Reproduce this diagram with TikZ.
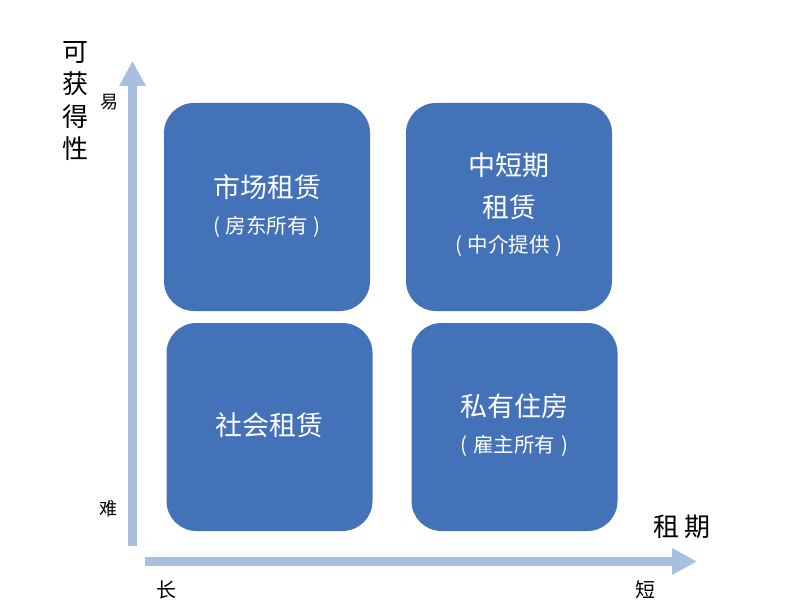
\documentclass[tikz,border=0pt]{standalone}
\usepackage{fontspec}
\setmainfont{Noto Sans CJK SC}
\usetikzlibrary{arrows.meta}
\definecolor{boxblue}{RGB}{68,114,185}
\definecolor{axisblue}{RGB}{168,191,223}
\tikzset{
  quad/.style={fill=boxblue, rounded corners=30pt, minimum width=206pt, minimum height=208pt, inner sep=0pt},
  maintxt/.style={text=white, font=\fontsize{27}{32}\selectfont, inner sep=0pt},
  subtxt/.style={text=white, font=\fontsize{20.5}{24}\selectfont, inner sep=0pt},
  axis/.style={draw=axisblue, line width=9pt, -{Triangle[length=25pt,width=25pt]}},
  axlabel/.style={text=black, inner sep=0pt},
}
\begin{document}
\begin{tikzpicture}[x=1pt,y=-1pt]
\useasboundingbox (0,0) rectangle (798,615);
% boxes
\node[quad] (b1) at (267,207) {};
\node[quad] (b2) at (509,207) {};
\node[quad] (b3) at (269.5,427) {};
\node[quad] (b4) at (514.5,427) {};
% texts
\node[maintxt] (t1a) at (267,187) {市场租赁};
\node[subtxt] (t1b) at (267,227) {(\hspace{6pt}房东所有\hspace{6pt})};
\node[maintxt] (t2a) at (509,165) {中短期};
\node[maintxt] (t2b) at (509,207) {租赁};
\node[subtxt] (t2c) at (509,246) {(\hspace{6pt}中介提供\hspace{6pt})};
\node[maintxt] (t3a) at (269.5,425) {社会租赁};
\node[maintxt] (t4a) at (514.5,406) {私有住房};
\node[subtxt] (t4b) at (514.5,446) {(\hspace{6pt}雇主所有\hspace{6pt})};
% axes
\coordinate (ystart) at (132.5,546);
\coordinate (yend) at (132.5,61);
\coordinate (xstart) at (145,561.5);
\coordinate (xend) at (697,561.5);
\draw[axis] (ystart) -- (yend);
\draw[axis] (xstart) -- (xend);
% axis labels
\node[axlabel, font=\fontsize{26}{32.5}\selectfont, align=center] (ylab) at (75,101) {可\\获\\得\\性};
\node[axlabel, font=\fontsize{18}{22}\selectfont] (easy) at (109,102) {易};
\node[axlabel, font=\fontsize{18}{22}\selectfont] (hard) at (108,509) {难};
\node[axlabel, font=\fontsize{20}{24}\selectfont] (long) at (166,590) {长};
\node[axlabel, font=\fontsize{20}{24}\selectfont] (short) at (645,590) {短};
\node[axlabel, font=\fontsize{26}{30}\selectfont] (xlab) at (682,527) {租\hspace{5pt}期};
\end{tikzpicture}
\end{document}
